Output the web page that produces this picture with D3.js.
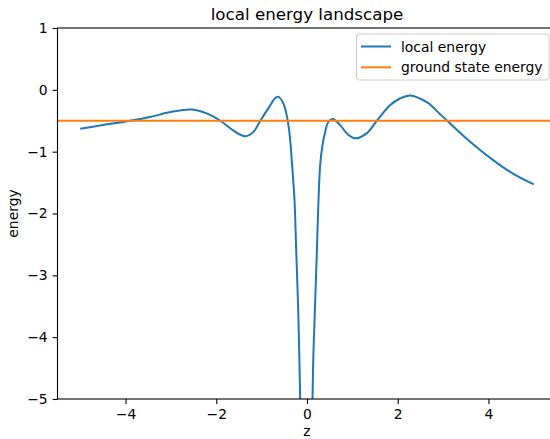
<!DOCTYPE html>
<html>
<head>
<meta charset="utf-8">
<script src="https://cdn.jsdelivr.net/npm/d3@7"></script>
<style>
  body { margin: 0; background: #fff; }
  text { font-family: "DejaVu Sans", sans-serif; fill: #000; }
</style>
</head>
<body>
<svg id="chart"></svg>
<script>
// values
let zValues = [-5.0, -4.55, -3.9, -3.46, -3.01, -2.54, -2.2, -1.91, -1.62, -1.36, -1.18, -1.03,
    -0.81, -0.72, -0.64, -0.52, -0.44, -0.39, -0.36, -0.33, -0.275, -0.238, -0.20, -0.172, -0.15,
    -0.12, -0.08, -0.04, 0.04, 0.08, 0.10, 0.121, 0.143, 0.181, 0.218, 0.253, 0.29, 0.34, 0.40,
    0.47, 0.57, 0.73, 0.90, 1.07, 1.32, 1.54, 1.83, 2.05, 2.27, 2.64, 2.93, 3.09, 3.52, 4.11, 4.55, 5.0]
let localEnergy = [-0.63, -0.575, -0.5, -0.44, -0.36, -0.32, -0.385, -0.5, -0.66, -0.75, -0.68, -0.5,
    -0.25, -0.15, -0.11, -0.22, -0.44, -0.68, -0.90, -1.2, -1.79, -2.60, -3.41, -4.22, -5.01,
    -6.3, -9.5, -19, -17, -8.5, -6.5, -5.01, -4.22, -3.41, -2.60, -1.79, -1.22, -0.90, -0.68,
    -0.52, -0.47, -0.57, -0.72, -0.785, -0.70, -0.5, -0.25, -0.14, -0.09, -0.20, -0.39, -0.5, -0.79,
    -1.14, -1.36, -1.53]
let groundEnergy = -0.5
let xTicks = [-4, -2, 0, 2, 4]
let yTicks = [1, 0, -1, -2, -3, -4, -5]
let seriesNames = ["local energy", "ground state energy"]

let blue = "#1f77b4", orange = "#ff7f0e"

let svg = d3.select("#chart").attr("width", 550).attr("height", 439)

// axes box (the right edge falls outside the picture, as in the reference)
let axLeft = 57.5, axRight = 556.5, axTop = 28, axBottom = 399

let x = d3.scaleLinear().domain([-5.5, 5.5]).range([axLeft, axRight])
let y = d3.scaleLinear().domain([-5, 1]).range([axBottom, axTop])

svg.append("clipPath").attr("id", "plotArea")
    .append("rect")
    .attr("x", axLeft).attr("y", axTop)
    .attr("width", axRight - axLeft).attr("height", axBottom - axTop)

let data = zValues.map((z, i) => ({z: z, e: localEnergy[i]}))

let plot = svg.append("g").attr("clip-path", "url(#plotArea)")

plot.append("path")
    .datum(data)
    .attr("fill", "none")
    .attr("stroke", blue)
    .attr("stroke-width", 2)
    .attr("stroke-linejoin", "round")
    .attr("d", d3.line()
        .x(d => x(d.z))
        .y(d => y(d.e))
        .curve(d3.curveCatmullRom.alpha(0.5)))

// axhline for ground state energy
plot.append("line")
    .attr("x1", axLeft).attr("x2", axRight)
    .attr("y1", y(groundEnergy)).attr("y2", y(groundEnergy))
    .attr("stroke", orange)
    .attr("stroke-width", 2)

// Add X axis
let fmt = d3.format("d")
let xAxis = d3.axisBottom(x).tickValues(xTicks).tickFormat(fmt).tickSize(4.9).tickPadding(4.9)
let gx = svg.append("g")
    .attr("transform", "translate(0," + axBottom + ")")
    .call(xAxis)

// Add Y axis
let yAxis = d3.axisLeft(y).tickValues(yTicks).tickFormat(fmt).tickSize(4.9).tickPadding(4.9)
let gy = svg.append("g")
    .attr("transform", "translate(" + axLeft + ",0)")
    .call(yAxis)

for (let g of [gx, gy]) {
    g.select(".domain").remove()
    g.selectAll(".tick line").attr("stroke", "#000").attr("stroke-width", 1.1)
    g.selectAll(".tick text").style("font-size", "13.9px").style("font-family", "DejaVu Sans")
}

// spines
svg.append("rect")
    .attr("x", axLeft).attr("y", axTop)
    .attr("width", axRight - axLeft).attr("height", axBottom - axTop)
    .attr("fill", "none")
    .attr("stroke", "#000")
    .attr("stroke-width", 1.1)

// title and axis labels
svg.append("text").attr("x", (axLeft + axRight) / 2).attr("y", 20)
    .attr("text-anchor", "middle").style("font-size", "16.7px")
    .text("local energy landscape")
svg.append("text").attr("x", (axLeft + axRight) / 2).attr("y", 436)
    .attr("text-anchor", "middle").style("font-size", "13.9px")
    .text("z")
svg.append("text")
    .attr("transform", "translate(18," + (axTop + axBottom) / 2 + ") rotate(-90)")
    .attr("text-anchor", "middle").style("font-size", "13.9px")
    .text("energy")

// legend
let legend = svg.append("g")
legend.append("rect")
    .attr("x", 356.5).attr("y", 34)
    .attr("width", 192.5).attr("height", 46)
    .attr("rx", 3)
    .attr("fill", "#fff").attr("fill-opacity", 0.8)
    .attr("stroke", "#cccccc").attr("stroke-width", 1)
let legendColors = [blue, orange]
seriesNames.forEach((name, i) => {
    let ly = 46.5 + i * 20.8
    legend.append("line")
        .attr("x1", 361).attr("x2", 391)
        .attr("y1", ly).attr("y2", ly)
        .attr("stroke", legendColors[i]).attr("stroke-width", 2)
    legend.append("text")
        .attr("x", 401).attr("y", ly)
        .attr("dominant-baseline", "central")
        .style("font-size", "13.9px")
        .text(name)
})
</script>
</body>
</html>
